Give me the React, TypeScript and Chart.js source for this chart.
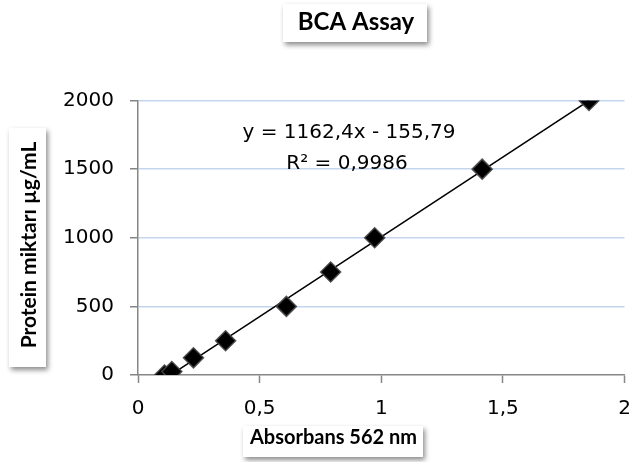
import React, { useEffect, useRef } from 'react';
import { Chart, registerables } from 'chart.js';

Chart.register(...registerables);

// ---- data ----
const absorbance = [0.109, 0.139, 0.228, 0.36, 0.61, 0.792, 0.973, 1.415, 1.854];
const protein = [0, 25, 125, 250, 500, 750, 1000, 1500, 2000];
const xTickValues = [0, 0.5, 1, 1.5, 2];
const xTickLabels = ['0', '0,5', '1', '1,5', '2'];
const yTickValues = [0, 500, 1000, 1500, 2000];
const yTickLabels = ['0', '500', '1000', '1500', '2000'];
const trendSlope = 1162.4;
const trendIntercept = -155.79;
const equationLines = ['y = 1162,4x - 155,79', 'R² = 0,9986'];
const titleText = 'BCA Assay';
const xTitleText = 'Absorbans 562 nm';
const yTitleText = 'Protein miktarı µg/mL';

const REG = 'DejaVu Sans';
const BOLD = 'Lato';

const boxPlugin = {
  id: 'boxedTexts',
  afterDraw(chart: any) {
    const ctx = chart.ctx as CanvasRenderingContext2D;
    const drawBox = (x: number, y: number, w: number, h: number) => {
      ctx.save();
      ctx.shadowColor = 'rgba(0,0,0,0.45)';
      ctx.shadowBlur = 5;
      ctx.shadowOffsetX = 2;
      ctx.shadowOffsetY = 3;
      ctx.fillStyle = '#ffffff';
      ctx.fillRect(x, y, w, h);
      ctx.restore();
    };
    // chart title
    drawBox(283, 4, 144, 38);
    ctx.save();
    ctx.fillStyle = '#000';
    ctx.textAlign = 'center';
    ctx.textBaseline = 'alphabetic';
    ctx.font = `bold 24px ${BOLD}`;
    ctx.fillText(titleText, 356, 30);
    // x title
    drawBox(243, 426, 180, 31);
    ctx.font = `bold 20px ${BOLD}`;
    ctx.fillText(xTitleText, 333.5, 444);
    // y title
    drawBox(9, 128, 37, 239);
    ctx.font = `bold 21px ${BOLD}`;
    ctx.translate(36, 245);
    ctx.rotate(-Math.PI / 2);
    ctx.fillText(yTitleText, 0, 0);
    ctx.restore();
    // equation
    ctx.save();
    ctx.fillStyle = '#000';
    ctx.textAlign = 'center';
    ctx.font = `20px ${REG}`;
    ctx.fillText(equationLines[0], 349, 138);
    ctx.fillText(equationLines[1], 347, 169);
    ctx.restore();
  },
};

export default function App() {
  const ref = useRef<HTMLCanvasElement>(null);

  useEffect(() => {
    document.body.style.margin = '0';
    const canvas = ref.current;
    if (!canvas) return;
    const xMin = Math.min(...absorbance);
    const xMax = Math.max(...absorbance);
    const points = absorbance.map((x, i) => ({ x, y: protein[i] }));
    const trend = [
      { x: xMin, y: trendSlope * xMin + trendIntercept },
      { x: xMax, y: trendSlope * xMax + trendIntercept },
    ];
    const axisGray = '#868686';
    const chart = new Chart(canvas, {
      type: 'scatter',
      data: {
        datasets: [
          {
            data: points,
            pointStyle: 'rectRot',
            pointRadius: 10,
            pointBackgroundColor: '#000',
            pointBorderColor: 'rgba(70,70,70,0.9)',
            pointBorderWidth: 1.5,
            order: 0,
          } as any,
          {
            type: 'line',
            data: trend,
            showLine: true,
            borderColor: '#000',
            borderWidth: 1.5,
            pointRadius: 0,
            order: 1,
          } as any,
        ],
      },
      options: {
        animation: false,
        responsive: false,
        layout: { autoPadding: false, padding: { top: 100.5, right: 7.5, left: 0, bottom: 0 } },
        plugins: {
          legend: { display: false },
          tooltip: { enabled: false },
          title: { display: false },
        },
        scales: {
          x: {
            type: 'linear',
            min: 0,
            max: 2,
            afterFit: (s: any) => {
              s.height = 87;
              s.paddingLeft = 0;
              s.paddingRight = 0;
            },
            afterBuildTicks: (s: any) => {
              s.ticks = xTickValues.map((v) => ({ value: v }));
            },
            ticks: {
              padding: 14,
              color: '#000',
              font: { family: REG, size: 20 },
              maxRotation: 0,
              callback: (v: any) => {
                const i = xTickValues.indexOf(Number(v));
                return i >= 0 ? xTickLabels[i] : '';
              },
            },
            grid: {
              drawOnChartArea: false,
              drawTicks: true,
              tickLength: 8,
              tickColor: axisGray,
              tickWidth: 1.5,
            },
            border: { color: axisGray, width: 1.5 },
          },
          y: {
            type: 'linear',
            min: 0,
            max: 2000,
            afterFit: (s: any) => {
              s.width = 138;
              s.paddingTop = 0;
              s.paddingBottom = 0;
            },
            afterBuildTicks: (s: any) => {
              s.ticks = yTickValues.map((v) => ({ value: v }));
            },
            ticks: {
              padding: 16,
              color: '#000',
              font: { family: REG, size: 20 },
              callback: (v: any) => {
                const i = yTickValues.indexOf(Number(v));
                return i >= 0 ? yTickLabels[i] : '';
              },
            },
            grid: {
              color: (c: any) => (c.tick && c.tick.value === 0 ? 'rgba(0,0,0,0)' : '#c4d5ee'),
              lineWidth: 1.5,
              drawTicks: true,
              tickLength: 8,
              tickColor: axisGray,
              tickWidth: 1.5,
            },
            border: { color: axisGray, width: 1.5 },
          },
        },
      } as any,
      plugins: [boxPlugin],
    });
    return () => chart.destroy();
  }, []);

  return (
    <div style={{ width: 632, height: 462, background: '#fff' }}>
      <canvas ref={ref} width={632} height={462} style={{ width: 632, height: 462, display: 'block' }} />
    </div>
  );
}
